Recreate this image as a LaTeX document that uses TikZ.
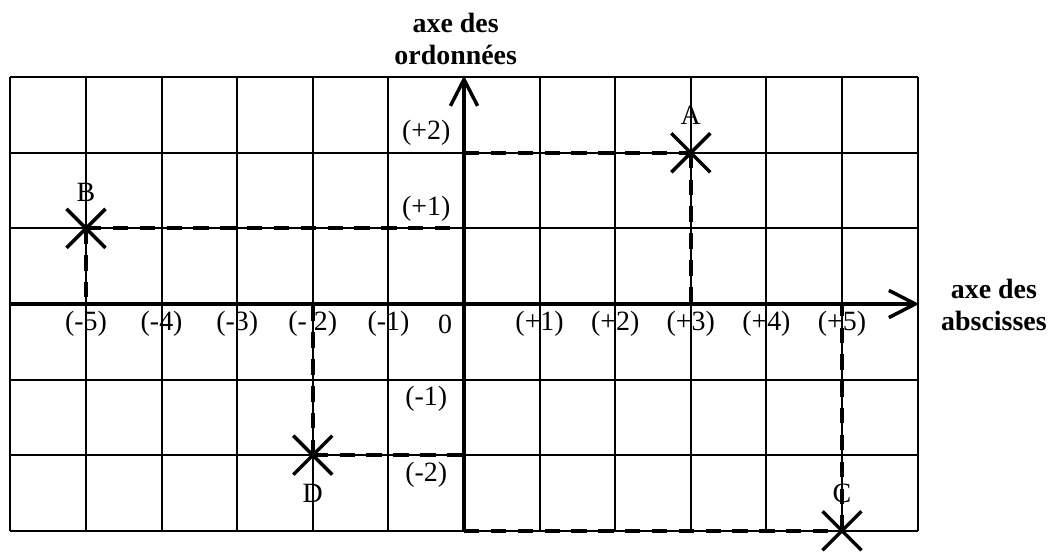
\documentclass[tikz,border=0pt]{standalone}
\usepackage{fontspec}
\setmainfont{Liberation Serif}
\usetikzlibrary{arrows.meta}
\begin{document}
\begin{tikzpicture}[
  font=\fontsize{10.5}{12}\selectfont,
  gridline/.style={line width=0.75pt},
  axisline/.style={line width=1.3pt},
  axisarrow/.style={axisline,-{Straight Barb[length=0.35cm,width=0.36cm,line width=1.3pt]}},
  guide/.style={line width=1.5pt,dash pattern=on 5.8pt off 4.3pt},
  crossmark/.style={line width=1.3pt},
  ticklab/.style={inner sep=0pt},
  axistitle/.style={font=\fontsize{10.5}{12}\selectfont\bfseries,align=center,inner sep=0pt}
]
\useasboundingbox (-6.138,-3.280) rectangle (7.884,4.021);
% grid
\draw[gridline] (-6,-3) grid (6,3);
% axes
\coordinate (xl) at (-6,0);
\coordinate (xr) at (6.02,0);
\coordinate (yb) at (0,-3);
\coordinate (yt) at (0,3.02);
\draw[axisarrow] (xl) -- (xr);
\draw[axisarrow] (yb) -- (yt);
% points
\coordinate (A) at (3,2);
\coordinate (B) at (-5,1);
\coordinate (C) at (5,-3);
\coordinate (D) at (-2,-2);
\coordinate (Ay) at (0,2);
\coordinate (Ax) at (3,0);
\coordinate (By) at (0,1);
\coordinate (Bx) at (-5,0);
\coordinate (Cy) at (0,-3);
\coordinate (Cx) at (5,0);
\coordinate (Dy) at (0,-2);
\coordinate (Dx) at (-2,0);
% guide lines
\draw[guide] (Ay) -- (A);
\draw[guide] (A) -- (Ax);
\draw[guide] (B) -- (By);
\draw[guide] (B) -- (Bx);
\draw[guide] (Cy) -- (C);
\draw[guide] (C) -- (Cx);
\draw[guide] (D) -- (Dy);
\draw[guide] (D) -- (Dx);
% crosses
\foreach \p in {A,B,C,D}{
  \draw[crossmark] (\p) ++(-0.258,-0.258) -- ++(0.516,0.516);
  \draw[crossmark] (\p) ++(-0.258,0.258) -- ++(0.516,-0.516);
}
% point labels
\node (lA) at (3,2.49) {A};
\node (lB) at (-5,1.48) {B};
\node (lC) at (5,-2.50) {C};
\node (lD) at (-2,-2.50) {D};
% x tick labels
\node[ticklab] (tm5) at (-5,-0.265) {(-5)};
\node[ticklab] (tm4) at (-4,-0.265) {(-4)};
\node[ticklab] (tm3) at (-3,-0.265) {(-3)};
\node[ticklab] (tm2) at (-2,-0.265) {(- 2)};
\node[ticklab] (tm1) at (-1,-0.265) {(-1)};
\node[ticklab] (t0) at (-0.25,-0.265) {0};
\node[ticklab] (tp1) at (1,-0.265) {(+1)};
\node[ticklab] (tp2) at (2,-0.265) {(+2)};
\node[ticklab] (tp3) at (3,-0.265) {(+3)};
\node[ticklab] (tp4) at (4,-0.265) {(+4)};
\node[ticklab] (tp5) at (5,-0.265) {(+5)};
% y tick labels
\node[ticklab] (up2) at (-0.5,2.262) {(+2)};
\node[ticklab] (up1) at (-0.5,1.257) {(+1)};
\node[ticklab] (um1) at (-0.5,-1.257) {(-1)};
\node[ticklab] (um2) at (-0.5,-2.262) {(-2)};
% axis titles
\node[axistitle] (ytitle) at (-0.11,3.505) {axe des\\ordonnées};
\node[axistitle] (xtitle) at (7.01,-0.01) {axe des\\abscisses};
\end{tikzpicture}
\end{document}
